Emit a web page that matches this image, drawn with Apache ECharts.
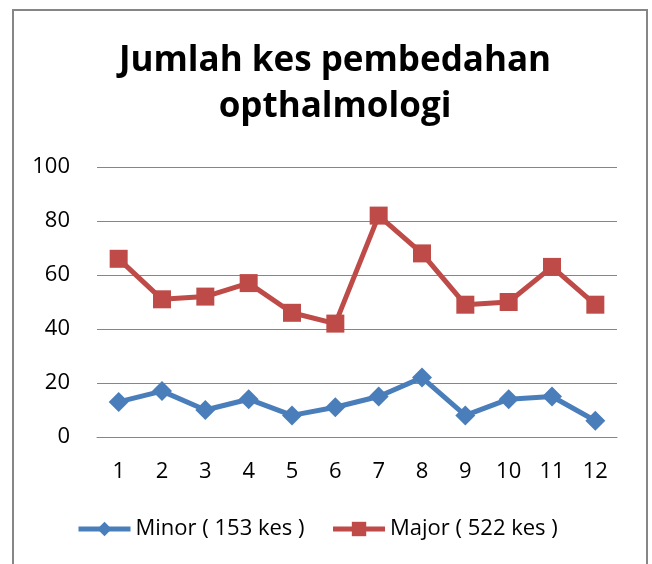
<!DOCTYPE html>
<html>
<head>
<meta charset="utf-8">
<script src="https://cdn.jsdelivr.net/npm/echarts@6/dist/echarts.min.js"></script>
<style>
html, body { margin: 0; padding: 0; background: #fff; }
#chart { width: 652px; height: 564px; }
</style>
</head>
<body>
<div id="chart"></div>
<script>
var months = ['1', '2', '3', '4', '5', '6', '7', '8', '9', '10', '11', '12'];
var minorVals = [13, 17, 10, 14, 8, 11, 15, 22, 8, 14, 15, 6];
var majorVals = [66, 51, 52, 57, 46, 42, 82, 68, 49, 50, 63, 49];
var seriesNames = ['Minor ( 153 kes )', 'Major ( 522 kes )'];

var fontFam = '"Open Sans", Lato, sans-serif';
var chart = echarts.init(document.getElementById('chart'));
chart.setOption({
	animation: false,
	backgroundColor: '#fff',
	title: {
		text: 'Jumlah kes pembedahan\nopthalmologi',
		left: 330,
		textAlign: 'center',
		top: 33,
		textStyle: {
			fontFamily: fontFam,
			fontWeight: 'bold',
			fontSize: 35,
			lineHeight: 46,
			color: '#000'
		}
	},
	graphic: [{
		type: 'rect',
		shape: { x: 13, y: 10, width: 634, height: 570 },
		style: { fill: 'none', stroke: '#868686', lineWidth: 2 },
		silent: true
	}],
	legend: {
		bottom: 19,
		left: 71,
		itemWidth: 52,
		itemHeight: 18,
		itemGap: 26,
		lineStyle: { width: 5 },
		textStyle: { fontFamily: fontFam, fontSize: 22, color: '#000' },
		data: seriesNames
	},
	grid: { left: 97, right: 35, top: 167, bottom: 127 },
	xAxis: {
		type: 'category',
		data: months,
		boundaryGap: true,
		axisLine: { lineStyle: { color: '#868686', width: 1 } },
		axisTick: { show: false },
		axisLabel: { fontFamily: fontFam, fontSize: 22, color: '#000', margin: 24 }
	},
	yAxis: {
		type: 'value',
		min: 0,
		max: 100,
		interval: 20,
		axisLine: { show: false },
		axisTick: { show: false },
		splitLine: { lineStyle: { color: '#868686', width: 1 } },
		axisLabel: { fontFamily: fontFam, fontSize: 22, color: '#000', margin: 27 }
	},
	series: [{
		name: seriesNames[0],
		type: 'line',
		data: minorVals,
		symbol: 'diamond',
		symbolSize: 20,
		lineStyle: { color: '#4A7EBB', width: 5 },
		itemStyle: { color: '#4A7EBB' }
	}, {
		name: seriesNames[1],
		type: 'line',
		data: majorVals,
		symbol: 'rect',
		symbolSize: 18,
		lineStyle: { color: '#BE4B48', width: 5 },
		itemStyle: { color: '#BE4B48' }
	}]
});
</script>
</body>
</html>
